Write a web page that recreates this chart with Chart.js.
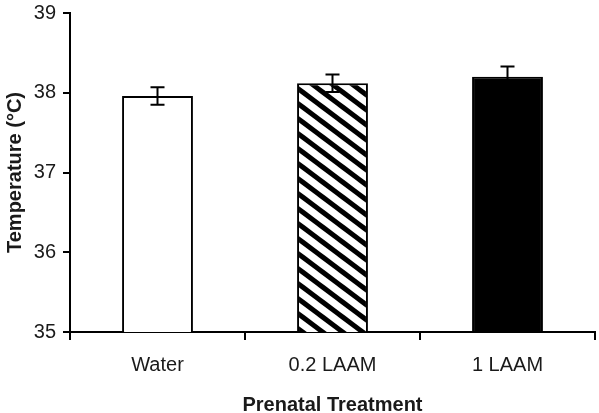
<!DOCTYPE html>
<html>
<head>
<meta charset="utf-8">
<script src="https://cdn.jsdelivr.net/npm/chart.js@4.4.0/dist/chart.umd.min.js"></script>
<style>
  html, body { margin: 0; padding: 0; background: #fff; }
  .wrapper { width: 599px; height: 413px; }
</style>
</head>
<body>
<div class="wrapper"><canvas id="Chart" width="599" height="413"></canvas></div>
<script>
// data
const categories = ['Water', '0.2 LAAM', '1 LAAM'];
const temp_mean = [37.96, 38.12, 38.2];
const temp_err = [0.11, 0.11, 0.13];
const y_ticks = [35, 36, 37, 38, 39];

// diagonal hatch for the middle bar
function hatch(){
  let w = 20, h = 15;
  let c = document.createElement('canvas');
  c.width = w; c.height = h;
  let g = c.getContext('2d');
  g.fillStyle = '#fff';
  g.fillRect(0, 0, w, h);
  g.strokeStyle = '#000';
  g.lineWidth = 5;
  for (let k = -2; k <= 2; k++) {
    // run each stripe well past the tile so the wrap has no gaps
    g.beginPath();
    g.moveTo(k * w - w, -h);
    g.lineTo(k * w + 2 * w, 2 * h);
    g.stroke();
  }
  return g.createPattern(c, 'repeat');
}

// error bars
const errorBars = {
  id: 'errorBars',
  afterDatasetsDraw(chart) {
    let ctx = chart.ctx;
    let ys = chart.scales.y;
    let meta = chart.getDatasetMeta(0);
    ctx.save();
    ctx.strokeStyle = '#000';
    ctx.lineWidth = 2;
    meta.data.forEach(function(bar, i) {
      let x = bar.x;
      let top = ys.getPixelForValue(temp_mean[i] + temp_err[i]);
      let bot = ys.getPixelForValue(temp_mean[i] - temp_err[i]);
      ctx.beginPath();
      ctx.moveTo(x, top); ctx.lineTo(x, bot);
      ctx.moveTo(x - 7, top); ctx.lineTo(x + 7, top);
      ctx.moveTo(x - 7, bot); ctx.lineTo(x + 7, bot);
      ctx.stroke();
    });
    ctx.restore();
  }
};

const tickFont = { family: 'Liberation Sans, Arial, sans-serif', size: 20 };
const titleFont = { family: 'Liberation Sans, Arial, sans-serif', size: 20, weight: 'bold' };

var ctx = document.getElementById('Chart');
var myChart = new Chart(ctx, {
  type: 'bar',
  data: {
    labels: categories,
    datasets: [{
      data: temp_mean,
      backgroundColor: ['#fff', hatch(), '#000'],
      borderColor: '#000',
      borderWidth: 2,
      barPercentage: 0.405,
      categoryPercentage: 1
    }]
  },
  options: {
    responsive: false,
    animation: false,
    events: [],
    layout: { padding: { top: 13, right: 4, left: 0, bottom: 0 } },
    plugins: { legend: { display: false }, tooltip: { enabled: false } },
    scales: {
      x: {
        grid: { drawOnChartArea: false, drawTicks: true, tickLength: 8, color: '#000', lineWidth: 2 },
        border: { display: true, color: '#000', width: 2 },
        ticks: { color: '#1a1a1a', font: tickFont, padding: 13 },
        title: { display: true, text: 'Prenatal Treatment', color: '#1a1a1a', font: Object.assign({ lineHeight: 0.8 }, titleFont), padding: { top: 10, bottom: 0 } },
        afterFit: function(s) { s.height = 81; s.paddingLeft = 0; s.paddingRight = 0; }
      },
      y: {
        min: 35,
        max: 39,
        afterBuildTicks: function(s) { s.ticks = y_ticks.map(v => ({ value: v })); },
        grid: { drawOnChartArea: false, drawTicks: true, tickLength: 7, color: '#000', lineWidth: 2 },
        border: { display: true, color: '#000', width: 2 },
        ticks: { color: '#1a1a1a', font: tickFont, padding: 7 },
        title: { display: true, text: 'Temperature (°C)', color: '#1a1a1a', font: titleFont, padding: { top: 3, bottom: 4 } },
        afterFit: function(s) { s.width = 70; s.paddingTop = 0; s.paddingBottom = 0; }
      }
    }
  },
  plugins: [errorBars]
});
</script>
</body>
</html>
